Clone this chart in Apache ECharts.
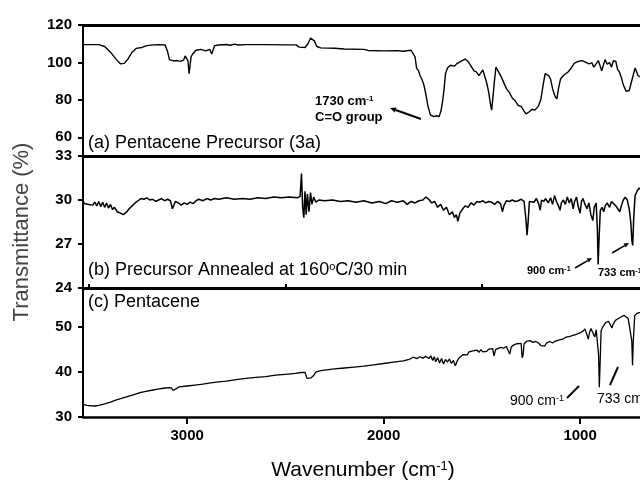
<!DOCTYPE html>
<html><head><meta charset="utf-8">
<script src="https://cdn.jsdelivr.net/npm/echarts@6/dist/echarts.min.js"></script>
<style>html,body{margin:0;padding:0;background:#fff}#c{width:640px;height:484px}</style>
</head><body><div id="c"></div>
<script>
// ---- data: [wavenumber (cm-1), transmittance (%)] ----
const specA = [[3530,109.5],[3450,109.5],[3420,108.5],[3390,105.5],[3360,101.5],[3340,99.3],[3320,99.5],[3300,102],[3280,105.5],[3260,107.5],[3230,108],[3205,109],[3170,109.4],[3140,109.5],[3112,109.3],[3100,106],[3090,101.5],[3070,100.8],[3050,101],[3035,100.6],[3018,101.2],[3010,103.5],[3004,104.5],[2996,101],[2990,94],[2985,94.5],[2980,103],[2972,104.5],[2955,106.5],[2930,107],[2905,106.2],[2885,107],[2875,104.5],[2868,105],[2860,109],[2840,109.3],[2800,109.6],[2780,109.2],[2760,109.8],[2740,109.3],[2700,109.5],[2600,109.5],[2500,109.4],[2445,109.4],[2430,108.2],[2400,108],[2385,110],[2372,113],[2362,112],[2352,111.5],[2340,108.5],[2320,107.8],[2250,107.6],[2200,107.2],[2100,107],[2080,106.4],[2000,106.2],[1930,106.3],[1900,106],[1860,106.5],[1850,105.8],[1840,103],[1832,97],[1822,95.5],[1815,93],[1805,91],[1795,88],[1785,83],[1775,77],[1762,72],[1745,71],[1730,71.5],[1718,71],[1708,74],[1700,79],[1692,86],[1685,94],[1675,97],[1660,98.5],[1640,98],[1625,99.5],[1600,101],[1585,101.8],[1570,100.5],[1555,98],[1540,95.5],[1528,95],[1515,93],[1505,93.5],[1495,96],[1485,95],[1475,89],[1465,84],[1455,77],[1450,74.5],[1443,82],[1436,90],[1428,97.5],[1420,97],[1410,94],[1400,92],[1390,91],[1375,86],[1360,84],[1345,81],[1330,79.5],[1315,77],[1300,76.5],[1285,74],[1275,72.5],[1260,73.5],[1245,75],[1230,74.5],[1213,76.5],[1200,80],[1188,88],[1178,94],[1170,93.5],[1160,93],[1150,91],[1140,86],[1128,82],[1118,80.5],[1110,86],[1100,91],[1085,93],[1075,92.5],[1060,95],[1045,97],[1030,99.5],[1010,100.5],[990,101],[970,100],[955,99.2],[940,99.8],[930,97.5],[920,98.5],[907,101],[897,100],[890,95.5],[880,99],[873,101.5],[862,99],[850,100],[840,97.5],[830,101],[818,100.5],[810,96.5],[800,95],[790,92],[780,88],[765,84.5],[750,85],[740,86],[730,93],[720,97],[705,93],[690,92],[680,93]];

const specB = [[3530,29.9],[3520,29.75],[3510,29.85],[3500,29.7],[3490,29.8],[3480,29.65],[3470,29.85],[3460,29.6],[3450,29.9],[3440,29.55],[3430,29.85],[3420,29.5],[3410,29.8],[3400,29.45],[3390,29.7],[3380,29.35],[3370,29.5],[3355,29.2],[3340,29.1],[3325,29.0],[3310,29.15],[3295,29.4],[3280,29.6],[3265,29.8],[3250,29.95],[3235,30.1],[3220,30.05],[3205,30.15],[3190,30.0],[3175,30.05],[3160,29.9],[3145,30.0],[3130,30.1],[3115,29.95],[3100,30.05],[3085,29.95],[3075,29.4],[3068,29.45],[3060,29.9],[3045,29.8],[3030,29.65],[3015,29.8],[3000,29.7],[2985,29.85],[2970,29.75],[2955,29.95],[2940,30.05],[2920,29.95],[2900,30.1],[2880,30.0],[2860,30.1],[2840,30.05],[2800,30.15],[2760,30.05],[2720,30.1],[2680,30.05],[2640,30.15],[2600,30.1],[2560,30.2],[2520,30.15],[2480,30.2],[2440,30.15],[2425,30.25],[2418,31.8],[2412,29.5],[2406,28.8],[2400,30.6],[2394,29.0],[2388,30.4],[2380,29.2],[2372,30.5],[2365,29.7],[2356,30.2],[2345,29.85],[2330,30.0],[2300,29.95],[2260,30.0],[2220,29.9],[2180,29.95],[2140,29.85],[2100,29.95],[2060,29.8],[2020,29.9],[1990,29.75],[1960,29.95],[1930,29.85],[1900,29.95],[1880,29.7],[1860,29.9],[1840,29.8],[1820,29.95],[1800,30.0],[1785,30.2],[1770,30.05],[1755,29.8],[1740,29.9],[1725,29.5],[1710,29.7],[1695,29.3],[1680,29.5],[1665,29.0],[1650,29.2],[1640,28.8],[1630,29.0],[1622,28.55],[1612,29.1],[1600,29.35],[1585,29.6],[1570,29.5],[1555,29.8],[1540,29.65],[1525,29.9],[1510,29.85],[1495,29.95],[1480,29.8],[1465,29.9],[1450,29.85],[1435,29.7],[1420,29.9],[1405,29.75],[1395,29.2],[1388,29.6],[1375,29.95],[1360,29.9],[1345,30.0],[1330,29.9],[1315,29.95],[1300,30.05],[1285,29.9],[1275,28.6],[1270,27.6],[1265,28.4],[1258,29.9],[1248,30.0],[1235,29.85],[1222,30.1],[1210,29.7],[1203,29.3],[1196,30.0],[1185,29.9],[1175,30.1],[1162,29.8],[1150,30.15],[1140,29.7],[1130,30.3],[1120,29.9],[1110,29.6],[1102,29.3],[1095,29.8],[1085,30.0],[1075,29.7],[1065,30.2],[1055,29.8],[1045,30.1],[1035,29.4],[1028,29.9],[1018,30.2],[1010,29.6],[1000,29.1],[993,29.9],[985,30.1],[975,29.7],[965,29.4],[955,29.8],[945,29.0],[935,28.6],[928,29.5],[918,29.8],[912,28.0],[908,25.6],[903,27.5],[897,29.3],[888,29.5],[880,29.2],[872,29.6],[862,29.8],[850,29.5],[840,29.9],[830,30.0],[818,29.6],[808,29.5],[798,29.2],[790,29.6],[780,30.0],[770,30.2],[760,30.0],[750,29.4],[742,28.5],[736,27.2],[732,26.9],[727,28.8],[720,30.3],[710,30.6],[700,30.8],[690,30.9],[680,30.7]];

const specC = [[3530,32.8],[3510,32.6],[3490,32.5],[3470,32.45],[3450,32.6],[3420,32.9],[3390,33.3],[3360,33.8],[3330,34.2],[3300,34.6],[3270,35.0],[3240,35.4],[3210,35.7],[3180,35.95],[3150,36.2],[3120,36.4],[3095,36.55],[3080,36.5],[3072,35.9],[3065,35.8],[3055,36.3],[3040,36.7],[3000,36.9],[2960,37.1],[2920,37.3],[2880,37.6],[2840,37.8],[2800,38.0],[2750,38.3],[2700,38.6],[2650,38.8],[2600,39.0],[2550,39.3],[2500,39.5],[2450,39.7],[2420,39.9],[2400,39.95],[2390,38.6],[2380,38.3],[2370,38.7],[2362,38.4],[2355,39.3],[2345,40.0],[2320,40.3],[2290,40.5],[2250,40.7],[2200,40.9],[2150,41.1],[2100,41.3],[2050,41.6],[2000,41.9],[1950,42.2],[1900,42.5],[1870,42.8],[1850,43.3],[1830,43.0],[1815,43.4],[1800,43.1],[1785,43.5],[1770,43.0],[1760,43.6],[1750,42.6],[1742,43.4],[1735,42.3],[1725,43.2],[1715,42.0],[1705,43.0],[1695,41.8],[1685,42.8],[1675,42.2],[1665,42.9],[1655,41.9],[1645,42.6],[1635,41.4],[1625,42.5],[1615,43.2],[1605,43.6],[1595,43.9],[1585,44.2],[1575,43.8],[1565,44.5],[1555,44.1],[1545,44.7],[1535,44.3],[1525,44.9],[1515,44.4],[1505,45.0],[1495,44.5],[1485,44.9],[1475,44.6],[1465,45.1],[1455,44.7],[1445,45.2],[1438,43.6],[1430,45.0],[1420,45.3],[1405,45.5],[1390,45.3],[1375,45.7],[1365,45.4],[1358,44.0],[1350,45.6],[1335,46.1],[1320,46.3],[1310,46.6],[1300,46.4],[1295,43.2],[1290,43.8],[1285,46.3],[1270,46.9],[1255,47.0],[1240,46.6],[1225,46.8],[1210,46.4],[1200,45.9],[1190,46.2],[1180,45.8],[1170,46.5],[1155,46.8],[1140,46.5],[1125,46.9],[1110,47.1],[1100,46.8],[1085,47.4],[1070,47.8],[1055,47.9],[1040,48.1],[1020,48.4],[1000,48.7],[985,49.1],[975,49.6],[965,48.3],[958,47.3],[952,48.8],[945,49.7],[935,49.9],[925,47.8],[918,49.4],[912,49.6],[906,44],[902,36.6],[898,42],[893,49.2],[885,50.0],[870,51.0],[855,51.3],[845,51.0],[838,49.8],[832,50.6],[820,51.5],[805,51.9],[790,52.3],[775,52.6],[765,52.3],[755,51.9],[745,52.3],[737,47],[733,41.5],[729,47],[722,52.5],[712,53.0],[700,53.2],[690,53.3],[680,53.3]];

const xMajorTicks = [3000, 2000, 1000];
const xMinorTicks = [3500, 2500, 1500];
const yTicksA = [60, 80, 100, 120];
const yTicksB = [24, 27, 30, 33];
const yTicksC = [30, 40, 50];
const rangeA = [50, 120];
const rangeB = [24, 33];
const rangeC = [30, 58.7];
const xRange = [695, 3530];   // visible part of the wavenumber axis

// ---- chart ----
const chart = echarts.init(document.getElementById('c'), null, {renderer: 'canvas'});
const FONT = 'Liberation Sans, Arial, sans-serif';
const gridsPos = [
  {left: 83, top: 25, right: 0, height: 131},
  {left: 83, top: 156, right: 0, height: 132},
  {left: 83, top: 288, right: 0, height: 129}
];
function xAx(gi, extra) {
  return Object.assign({
    type: 'value', gridIndex: gi, min: xRange[0], max: xRange[1], inverse: true,
    axisLine: {show: true, onZero: false, lineStyle: {color: '#000', width: 3}},
    axisTick: {show: false}, axisLabel: {show: false}, splitLine: {show: false}
  }, extra || {});
}
function yAx(gi, range, ticks) {
  return {
    type: 'value', gridIndex: gi, min: range[0], max: range[1],
    axisLine: {show: true, onZero: false, lineStyle: {color: '#000', width: 2}},
    axisTick: {show: true, inside: false, length: 5, lineStyle: {color: '#000', width: 2}, customValues: ticks},
    axisLabel: {show: true, customValues: ticks, margin: 11, color: '#000', fontFamily: FONT, fontWeight: 'bold', fontSize: 15},
    splitLine: {show: false}
  };
}
const lineSeries = (data, xi, yi, w) => ({
  type: 'line', data: data, xAxisIndex: xi, yAxisIndex: yi, showSymbol: false, symbol: 'none',
  lineStyle: {color: '#000', width: w}, clip: true, animation: false
});

const supRich = (fs, fw) => ({
  n: {fontSize: fs, fontWeight: fw, fontFamily: FONT, fill: '#000', color: '#000'},
  s: {fontSize: Math.round(fs * 0.62), fontWeight: fw, fontFamily: FONT, fill: '#000', color: '#000', verticalAlign: 'top', lineHeight: fs}
});
function arrow(x1, y1, x2, y2, head, w) {
  const ang = Math.atan2(y2 - y1, x2 - x1);
  const L = head, W = head * 0.45;
  const bx = x2 - L * Math.cos(ang), by = y2 - L * Math.sin(ang);
  const px = -Math.sin(ang) * W, py = Math.cos(ang) * W;
  const els = [{type: 'line', shape: {x1: x1, y1: y1, x2: bx, y2: by}, style: {stroke: '#000', lineWidth: w}}];
  if (head > 0) els.push({type: 'polygon', shape: {points: [[x2, y2], [bx + px, by + py], [bx - px, by - py]]}, style: {fill: '#000'}});
  return els;
}

const graphics = [
  {type: 'text', x: 88, y: 143, style: {text: '(a) Pentacene Precursor (3a)', font: '18px ' + FONT, fill: '#000', textVerticalAlign: 'middle'}},
  {type: 'text', x: 88, y: 270, style: {text: '{n|(b) Precursor Annealed at 160}{s|o}{n|C/30 min}', rich: supRich(18, 'normal'), textVerticalAlign: 'middle'}},
  {type: 'text', x: 88, y: 302, style: {text: '(c) Pentacene', font: '18px ' + FONT, fill: '#000', textVerticalAlign: 'middle'}},
  {type: 'text', x: 22, y: 232, rotation: Math.PI / 2, style: {text: 'Transmittance (%)', font: '22px ' + FONT, fill: '#444', textAlign: 'center', textVerticalAlign: 'middle'}},
  {type: 'text', x: 363, y: 470, style: {text: '{n|Wavenumber (cm}{s|-1}{n|)}', rich: {
      n: {fontSize: 21, fontFamily: FONT, color: '#444'},
      s: {fontSize: 13, fontFamily: FONT, color: '#444', verticalAlign: 'top', lineHeight: 21}
    }, textAlign: 'center', textVerticalAlign: 'middle'}},
  // panel a annotation
  {type: 'text', x: 315, y: 101, style: {text: '{n|1730 cm}{s|-1}', rich: supRich(13, 'bold'), textVerticalAlign: 'middle'}},
  {type: 'text', x: 315, y: 117, style: {text: 'C=O group', font: 'bold 13px ' + FONT, fill: '#000', textVerticalAlign: 'middle'}},
  ...arrow(421, 119, 390, 108, 6, 2),
  // panel b annotations
  {type: 'text', x: 527, y: 271, style: {text: '{n|900 cm}{s|-1}', rich: supRich(11, 'bold'), textVerticalAlign: 'middle'}},
  ...arrow(575, 268, 592, 258, 5, 1.5),
  {type: 'text', x: 598, y: 273, style: {text: '{n|733 cm}{s|-1}', rich: supRich(11, 'bold'), textVerticalAlign: 'middle'}},
  ...arrow(612, 253, 629, 243, 5, 1.5),
  // panel c annotations
  {type: 'text', x: 510, y: 401, style: {text: '{n|900 cm}{s|-1}', rich: supRich(14, 'normal'), textVerticalAlign: 'middle'}},
  ...arrow(567, 398, 579, 386, 0, 2),
  {type: 'text', x: 597, y: 399, style: {text: '{n|733 cm}{s|-1}', rich: supRich(14, 'normal'), textVerticalAlign: 'middle'}},
  ...arrow(610, 385, 618, 367, 0, 2)
];

chart.setOption({
  animation: false,
  backgroundColor: '#fff',
  grid: gridsPos.map(g => Object.assign({containLabel: false}, g)),
  xAxis: [
    xAx(0),
    xAx(0, {position: 'top'}),
    xAx(1),
    xAx(2, {
      axisLine: {show: true, onZero: false, lineStyle: {color: '#000', width: 2.5}},
      axisTick: {show: true, inside: false, length: 7, lineStyle: {color: '#000', width: 2}, customValues: xMajorTicks},
      axisLabel: {show: true, customValues: xMajorTicks, formatter: v => String(v), margin: 11, color: '#000', fontFamily: FONT, fontWeight: 'bold', fontSize: 15}
    }),
    xAx(2, {
      axisLine: {show: false},
      axisTick: {show: true, inside: false, length: 4, lineStyle: {color: '#000', width: 2}, customValues: xMinorTicks}
    })
  ],
  yAxis: [yAx(0, rangeA, yTicksA), yAx(1, rangeB, yTicksB), yAx(2, rangeC, yTicksC)],
  series: [lineSeries(specA, 0, 0, 1.4), lineSeries(specB, 2, 1, 1.5), lineSeries(specC, 3, 2, 1.3)],
  graphic: graphics
});
</script></body></html>
